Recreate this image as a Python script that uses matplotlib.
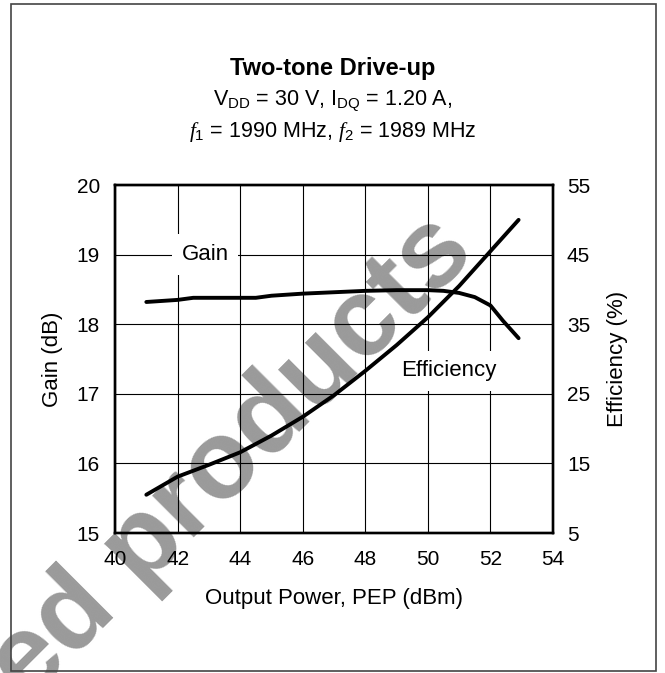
import matplotlib
matplotlib.use("Agg")
import matplotlib.pyplot as plt
from matplotlib.patches import Rectangle

plt.rcParams['font.family'] = ['Liberation Sans', 'DejaVu Sans']
plt.rcParams['mathtext.fontset'] = 'custom'
plt.rcParams['mathtext.rm'] = 'Liberation Sans'
plt.rcParams['mathtext.it'] = 'Liberation Serif:italic'

# data
gain_pout = [41, 42, 42.5, 44, 44.5, 45, 46, 47, 48, 49, 50, 50.5, 51, 51.5, 52, 52.4, 52.9]
gain_db = [18.32, 18.35, 18.38, 18.38, 18.38, 18.41, 18.44, 18.46, 18.48, 18.49, 18.49, 18.48, 18.45, 18.39, 18.27, 18.05, 17.8]
eff_pout = [41, 42, 43, 44, 45, 46, 47, 48, 49, 50, 51, 52, 52.9]
eff_pct = [10.5, 13.1, 14.8, 16.6, 19.0, 21.7, 24.8, 28.3, 32.0, 36.0, 40.5, 45.5, 50.0]
x_ticks = [40, 42, 44, 46, 48, 50, 52, 54]
gain_ticks = [15, 16, 17, 18, 19, 20]
eff_ticks = [5, 15, 25, 35, 45, 55]

FS = 15

fig = plt.figure(figsize=(6.65, 6.73), dpi=100)
ax = fig.add_axes([0.173, 0.208, 0.6586, 0.517])
ax2 = ax.twinx()

# watermark behind the axes (axes backgrounds are transparent)
fig.text(0.348, 0.318, "ed products", fontsize=80, fontweight='bold', color='#9a9a9a',
         rotation=45, ha='center', va='center', zorder=-1)
ax.set_facecolor('none')
ax2.set_facecolor('none')

ax.plot(gain_pout, gain_db, color='black', lw=2.8, solid_capstyle='round', zorder=4)
ax2.plot(eff_pout, eff_pct, color='black', lw=2.8, solid_capstyle='round', zorder=4)

ax.set_xlim(40, 54)
ax.set_ylim(15, 20)
ax2.set_ylim(5, 55)
ax.set_xticks(x_ticks)
ax.set_yticks(gain_ticks)
ax2.set_yticks(eff_ticks)
ax.grid(True, color='black', lw=0.8)
ax.tick_params(axis='x', length=0, labelsize=FS, pad=12)
ax.tick_params(axis='y', length=0, labelsize=FS, pad=11)
ax2.tick_params(length=0, labelsize=FS, pad=10)
for a in (ax, ax2):
    for s in a.spines.values():
        s.set_linewidth(1.7)

ax.set_xlabel("Output Power, PEP (dBm)", fontsize=FS + 1, labelpad=14)
ax.set_ylabel("Gain (dB)", fontsize=FS + 1, labelpad=10)
ax2.set_ylabel("Efficiency (%)", fontsize=FS + 1, labelpad=12)

box = dict(facecolor='white', edgecolor='none', pad=7)
ax.text(42.88, 19, "Gain", fontsize=FS + 1, ha='center', va='center', bbox=box, zorder=3)
ax.text(50.67, 17.33, "Efficiency", fontsize=FS + 1, ha='center', va='center', bbox=box, zorder=3)

fig.text(0.5, 0.8886, "Two-tone Drive-up", fontsize=17, fontweight='bold', ha='center', va='baseline')
fig.text(0.5, 0.844, r"V$_{\rm DD}$ = 30 V, I$_{\rm DQ}$ = 1.20 A,", fontsize=15.5, ha='center', va='baseline')
fig.text(0.5, 0.7964, r"$f_{\rm 1}$ = 1990 MHz, $f_{\rm 2}$ = 1989 MHz", fontsize=15.5, ha='center', va='baseline')

fig.patches.append(Rectangle((0.016, 0.003), 0.971, 0.991, transform=fig.transFigure,
                             fill=False, edgecolor='#444444', lw=1.2))

fig.savefig("out.png", dpi=100)
